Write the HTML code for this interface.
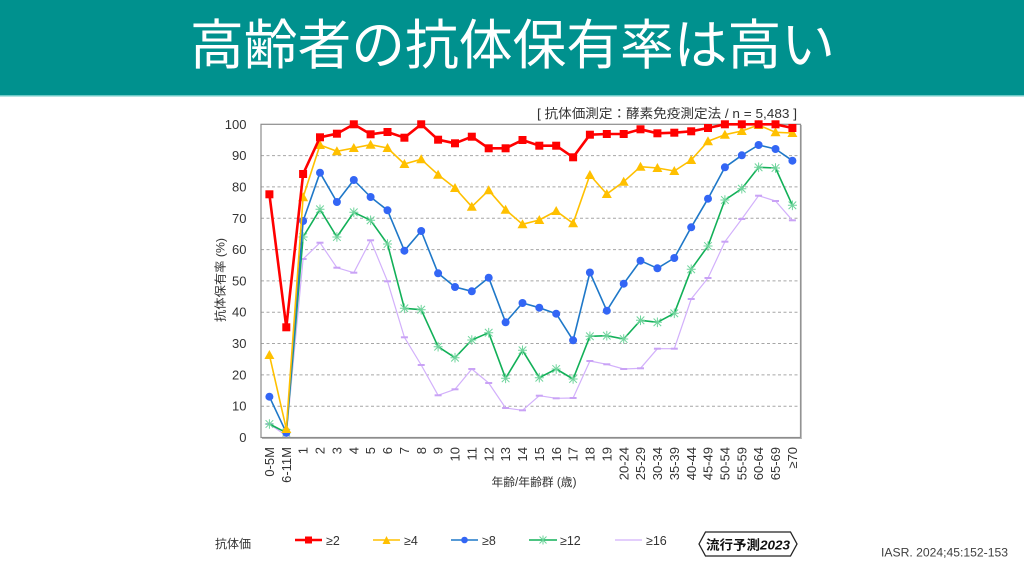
<!DOCTYPE html>
<html>
<head>
<meta charset="utf-8">
<style>
html,body{margin:0;padding:0;background:#fff;}
body{width:1024px;height:576px;overflow:hidden;}
svg{display:block;font-family:"Liberation Sans","Noto Sans CJK JP",sans-serif;}
</style>
</head>
<body>
<svg width="1024" height="576" viewBox="0 0 1024 576" xmlns="http://www.w3.org/2000/svg">
<defs>
  <marker id="mr" markerWidth="10" markerHeight="10" refX="5" refY="5" markerUnits="userSpaceOnUse" overflow="visible">
    <rect x="1" y="1" width="8" height="8" fill="#ff0000"/>
  </marker>
  <marker id="my" markerWidth="10" markerHeight="10" refX="5" refY="5.5" markerUnits="userSpaceOnUse" overflow="visible">
    <polygon points="0,9.5 5,0.5 10,9.5" fill="#ffc000"/>
  </marker>
  <marker id="mb" markerWidth="10" markerHeight="10" refX="5" refY="5" markerUnits="userSpaceOnUse" overflow="visible">
    <circle cx="5" cy="5" r="4" fill="#3366f5"/>
  </marker>
  <marker id="mg" markerWidth="10" markerHeight="10" refX="5" refY="5" markerUnits="userSpaceOnUse" overflow="visible">
    <path d="M1.2,1.2 L8.8,8.8 M8.8,1.2 L1.2,8.8 M5,0.2 L5,9.8 M0.5,5 L9.5,5" stroke="#6fd49c" stroke-width="1" fill="none"/>
  </marker>
  <marker id="mp" markerWidth="10" markerHeight="10" refX="5" refY="5" markerUnits="userSpaceOnUse" overflow="visible">
    <rect x="1.5" y="4" width="7" height="2" fill="#c9a2f5"/>
  </marker>
</defs>

<!-- title bar -->
<rect x="0" y="0" width="1024" height="95" fill="#00918e"/>
<rect x="0" y="95" width="1024" height="1.5" fill="#6cc9c6"/>
<text x="190" y="64" font-size="54" fill="#ffffff" textLength="645" lengthAdjust="spacingAndGlyphs" font-family="'Noto Sans CJK JP',sans-serif">高齢者の抗体保有率は高い</text>

<!-- annotation -->
<text x="537" y="118" font-size="13" fill="#333" textLength="260" lengthAdjust="spacingAndGlyphs">[ 抗体価測定：酵素免疫測定法 / n = 5,483 ]</text>

<!-- grid -->
<g stroke="#a6a6a6" stroke-width="1" stroke-dasharray="3,2.5">
  <line x1="261" y1="406.2" x2="800.5" y2="406.2"/>
  <line x1="261" y1="374.9" x2="800.5" y2="374.9"/>
  <line x1="261" y1="343.5" x2="800.5" y2="343.5"/>
  <line x1="261" y1="312.2" x2="800.5" y2="312.2"/>
  <line x1="261" y1="280.9" x2="800.5" y2="280.9"/>
  <line x1="261" y1="249.6" x2="800.5" y2="249.6"/>
  <line x1="261" y1="218.3" x2="800.5" y2="218.3"/>
  <line x1="261" y1="186.9" x2="800.5" y2="186.9"/>
  <line x1="261" y1="155.6" x2="800.5" y2="155.6"/>
</g>
<rect x="261" y="124.3" width="539.5" height="313.2" fill="none" stroke="#8c8c8c" stroke-width="1.2"/>
<line x1="801.3" y1="125" x2="801.3" y2="438.5" stroke="#b0b0b0" stroke-width="1"/>
<line x1="262" y1="438.5" x2="801.8" y2="438.5" stroke="#b0b0b0" stroke-width="1"/>

<!-- y tick labels -->
<g font-size="13" fill="#333" text-anchor="end">
  <text x="246.5" y="442">0</text>
  <text x="246.5" y="410.7">10</text>
  <text x="246.5" y="379.4">20</text>
  <text x="246.5" y="348">30</text>
  <text x="246.5" y="316.7">40</text>
  <text x="246.5" y="285.4">50</text>
  <text x="246.5" y="254.1">60</text>
  <text x="246.5" y="222.8">70</text>
  <text x="246.5" y="191.4">80</text>
  <text x="246.5" y="160.1">90</text>
  <text x="246.5" y="128.8">100</text>
</g>

<!-- y axis title -->
<text transform="translate(224.5,280) rotate(-90)" font-size="12" fill="#333" text-anchor="middle" textLength="84" lengthAdjust="spacingAndGlyphs">抗体保有率 (%)</text>

<!-- x tick labels -->
<g font-size="13" fill="#333" text-anchor="end">
  <text transform="translate(274,447) rotate(-90)">0-5M</text>
  <text transform="translate(290.9,447) rotate(-90)">6-11M</text>
  <text transform="translate(307.7,447) rotate(-90)">1</text>
  <text transform="translate(324.6,447) rotate(-90)">2</text>
  <text transform="translate(341.5,447) rotate(-90)">3</text>
  <text transform="translate(358.4,447) rotate(-90)">4</text>
  <text transform="translate(375.2,447) rotate(-90)">5</text>
  <text transform="translate(392.1,447) rotate(-90)">6</text>
  <text transform="translate(409,447) rotate(-90)">7</text>
  <text transform="translate(425.8,447) rotate(-90)">8</text>
  <text transform="translate(442.7,447) rotate(-90)">9</text>
  <text transform="translate(459.6,447) rotate(-90)">10</text>
  <text transform="translate(476.4,447) rotate(-90)">11</text>
  <text transform="translate(493.3,447) rotate(-90)">12</text>
  <text transform="translate(510.2,447) rotate(-90)">13</text>
  <text transform="translate(527.1,447) rotate(-90)">14</text>
  <text transform="translate(543.9,447) rotate(-90)">15</text>
  <text transform="translate(560.8,447) rotate(-90)">16</text>
  <text transform="translate(577.7,447) rotate(-90)">17</text>
  <text transform="translate(594.5,447) rotate(-90)">18</text>
  <text transform="translate(611.4,447) rotate(-90)">19</text>
  <text transform="translate(628.3,447) rotate(-90)">20-24</text>
  <text transform="translate(645.1,447) rotate(-90)">25-29</text>
  <text transform="translate(662,447) rotate(-90)">30-34</text>
  <text transform="translate(678.9,447) rotate(-90)">35-39</text>
  <text transform="translate(695.8,447) rotate(-90)">40-44</text>
  <text transform="translate(712.6,447) rotate(-90)">45-49</text>
  <text transform="translate(729.5,447) rotate(-90)">50-54</text>
  <text transform="translate(746.4,447) rotate(-90)">55-59</text>
  <text transform="translate(763.2,447) rotate(-90)">60-64</text>
  <text transform="translate(780.1,447) rotate(-90)">65-69</text>
  <text transform="translate(797,447) rotate(-90)">≥70</text>
</g>

<!-- x axis title -->
<text x="534" y="486" font-size="11.5" fill="#333" text-anchor="middle" textLength="85" lengthAdjust="spacingAndGlyphs">年齢/年齢群 (歳)</text>

<!-- series -->
<polyline fill="none" stroke="#d2b0fb" stroke-width="1.2" stroke-linejoin="round" marker-start="url(#mp)" marker-mid="url(#mp)" marker-end="url(#mp)"
 points="269.4,424 286.3,435.7 303.1,259 320.0,242.7 336.9,267.7 353.8,272.7 370.6,240.3 387.5,281.3 404.4,337.3 421.2,365 438.1,395.3 455.0,389.3 471.8,369 488.7,383 505.6,408 522.5,410.3 539.3,395.7 556.2,398.3 573.1,398 589.9,361 606.8,364.3 623.7,369 640.5,368.3 657.4,348.7 674.3,348.7 691.2,299 708.0,278 724.9,241.7 741.8,219 758.6,195.7 775.5,201 792.4,220.3"/>
<polyline fill="none" stroke="#12b058" stroke-width="1.6" stroke-linejoin="round" marker-start="url(#mg)" marker-mid="url(#mg)" marker-end="url(#mg)"
 points="269.4,424 286.3,432.7 303.1,237 320.0,209.3 336.9,237 353.8,212.3 370.6,220.3 387.5,244 404.4,308.3 421.2,309.7 438.1,346.7 455.0,357.7 471.8,340 488.7,332.7 505.6,378.3 522.5,350.3 539.3,377.7 556.2,369 573.1,379 589.9,336.3 606.8,335.7 623.7,339 640.5,320.3 657.4,322.3 674.3,313.3 691.2,269.3 708.0,246 724.9,200 741.8,188.7 758.6,167.3 775.5,168 792.4,205.3"/>
<polyline fill="none" stroke="#1f78c8" stroke-width="1.6" stroke-linejoin="round" marker-start="url(#mb)" marker-mid="url(#mb)" marker-end="url(#mb)"
 points="269.4,396.7 286.3,432.7 303.1,221 320.0,172.7 336.9,202 353.8,180 370.6,197 387.5,210.3 404.4,250.7 421.2,231 438.1,273.3 455.0,287 471.8,291.3 488.7,277.7 505.6,322.3 522.5,303 539.3,307.7 556.2,313.7 573.1,340.3 589.9,272.5 606.8,310.7 623.7,283.7 640.5,260.7 657.4,268.3 674.3,258 691.2,227.3 708.0,198.7 724.9,167.3 741.8,155.3 758.6,145 775.5,149 792.4,160.7"/>
<polyline fill="none" stroke="#ffc000" stroke-width="1.6" stroke-linejoin="round" marker-start="url(#my)" marker-mid="url(#my)" marker-end="url(#my)"
 points="269.4,355 286.3,429 303.1,197.3 320.0,145 336.9,151.3 353.8,148 370.6,144.7 387.5,148 404.4,164 421.2,159.3 438.1,174.7 455.0,188 471.8,206.7 488.7,190.3 505.6,209.7 522.5,224.3 539.3,220 556.2,211 573.1,223.3 589.9,175 606.8,194 623.7,181.7 640.5,166.7 657.4,168 674.3,171 691.2,160 708.0,141.3 724.9,134.7 741.8,131 758.6,125 775.5,132.3 792.4,133"/>
<polyline fill="none" stroke="#ff0000" stroke-width="2.6" stroke-linejoin="round" marker-start="url(#mr)" marker-mid="url(#mr)" marker-end="url(#mr)"
 points="269.4,194.3 286.3,327.3 303.1,174 320.0,137.3 336.9,133.7 353.8,124.3 370.6,134.3 387.5,132 404.4,137.7 421.2,124.3 438.1,139.7 455.0,143.3 471.8,136.7 488.7,148.3 505.6,148.3 522.5,140 539.3,145.7 556.2,145.7 573.1,157.3 589.9,134.7 606.8,134 623.7,134 640.5,129.3 657.4,133.3 674.3,132.7 691.2,131.3 708.0,128 724.9,124.3 741.8,124.3 758.6,124.3 775.5,124.3 792.4,128"/>

<!-- legend -->
<text x="215" y="548" font-size="12" fill="#333">抗体価</text>
<g font-size="12.5" fill="#333">
  <line x1="295" y1="540" x2="322" y2="540" stroke="#ff0000" stroke-width="2.6"/>
  <rect x="305" y="536.5" width="7" height="7" fill="#ff0000"/>
  <text x="326" y="545">≥2</text>
  <line x1="373" y1="540" x2="400" y2="540" stroke="#ffc000" stroke-width="1.6"/>
  <polygon points="382.5,544 386.5,536 390.5,544" fill="#ffc000"/>
  <text x="404" y="545">≥4</text>
  <line x1="451" y1="540" x2="478" y2="540" stroke="#1f78c8" stroke-width="1.6"/>
  <circle cx="464.5" cy="540" r="3.3" fill="#3366f5"/>
  <text x="482" y="545">≥8</text>
  <line x1="529" y1="540" x2="557" y2="540" stroke="#12b058" stroke-width="1.6"/>
  <path d="M539.5,536.5 L546.5,543.5 M546.5,536.5 L539.5,543.5 M543,535.5 L543,544.5" stroke="#6fd49c" stroke-width="1" fill="none"/>
  <text x="560" y="545">≥12</text>
  <line x1="615" y1="540" x2="642" y2="540" stroke="#d2b0fb" stroke-width="1.3"/>
  <text x="646" y="545">≥16</text>
</g>

<!-- logo -->
<path d="M699,544 L705.5,532 L790.5,532 L797,544 L790.5,556 L705.5,556 Z" fill="#fff" stroke="#222" stroke-width="1.3"/>
<text x="706" y="549.5" font-size="13" font-weight="bold" fill="#111" textLength="84" lengthAdjust="spacingAndGlyphs">流行予測<tspan font-style="italic">2023</tspan></text>

<!-- source -->
<text x="881" y="556.5" font-size="11.5" fill="#404040" textLength="127" lengthAdjust="spacingAndGlyphs">IASR. 2024;45:152-153</text>
</svg>
</body>
</html>
